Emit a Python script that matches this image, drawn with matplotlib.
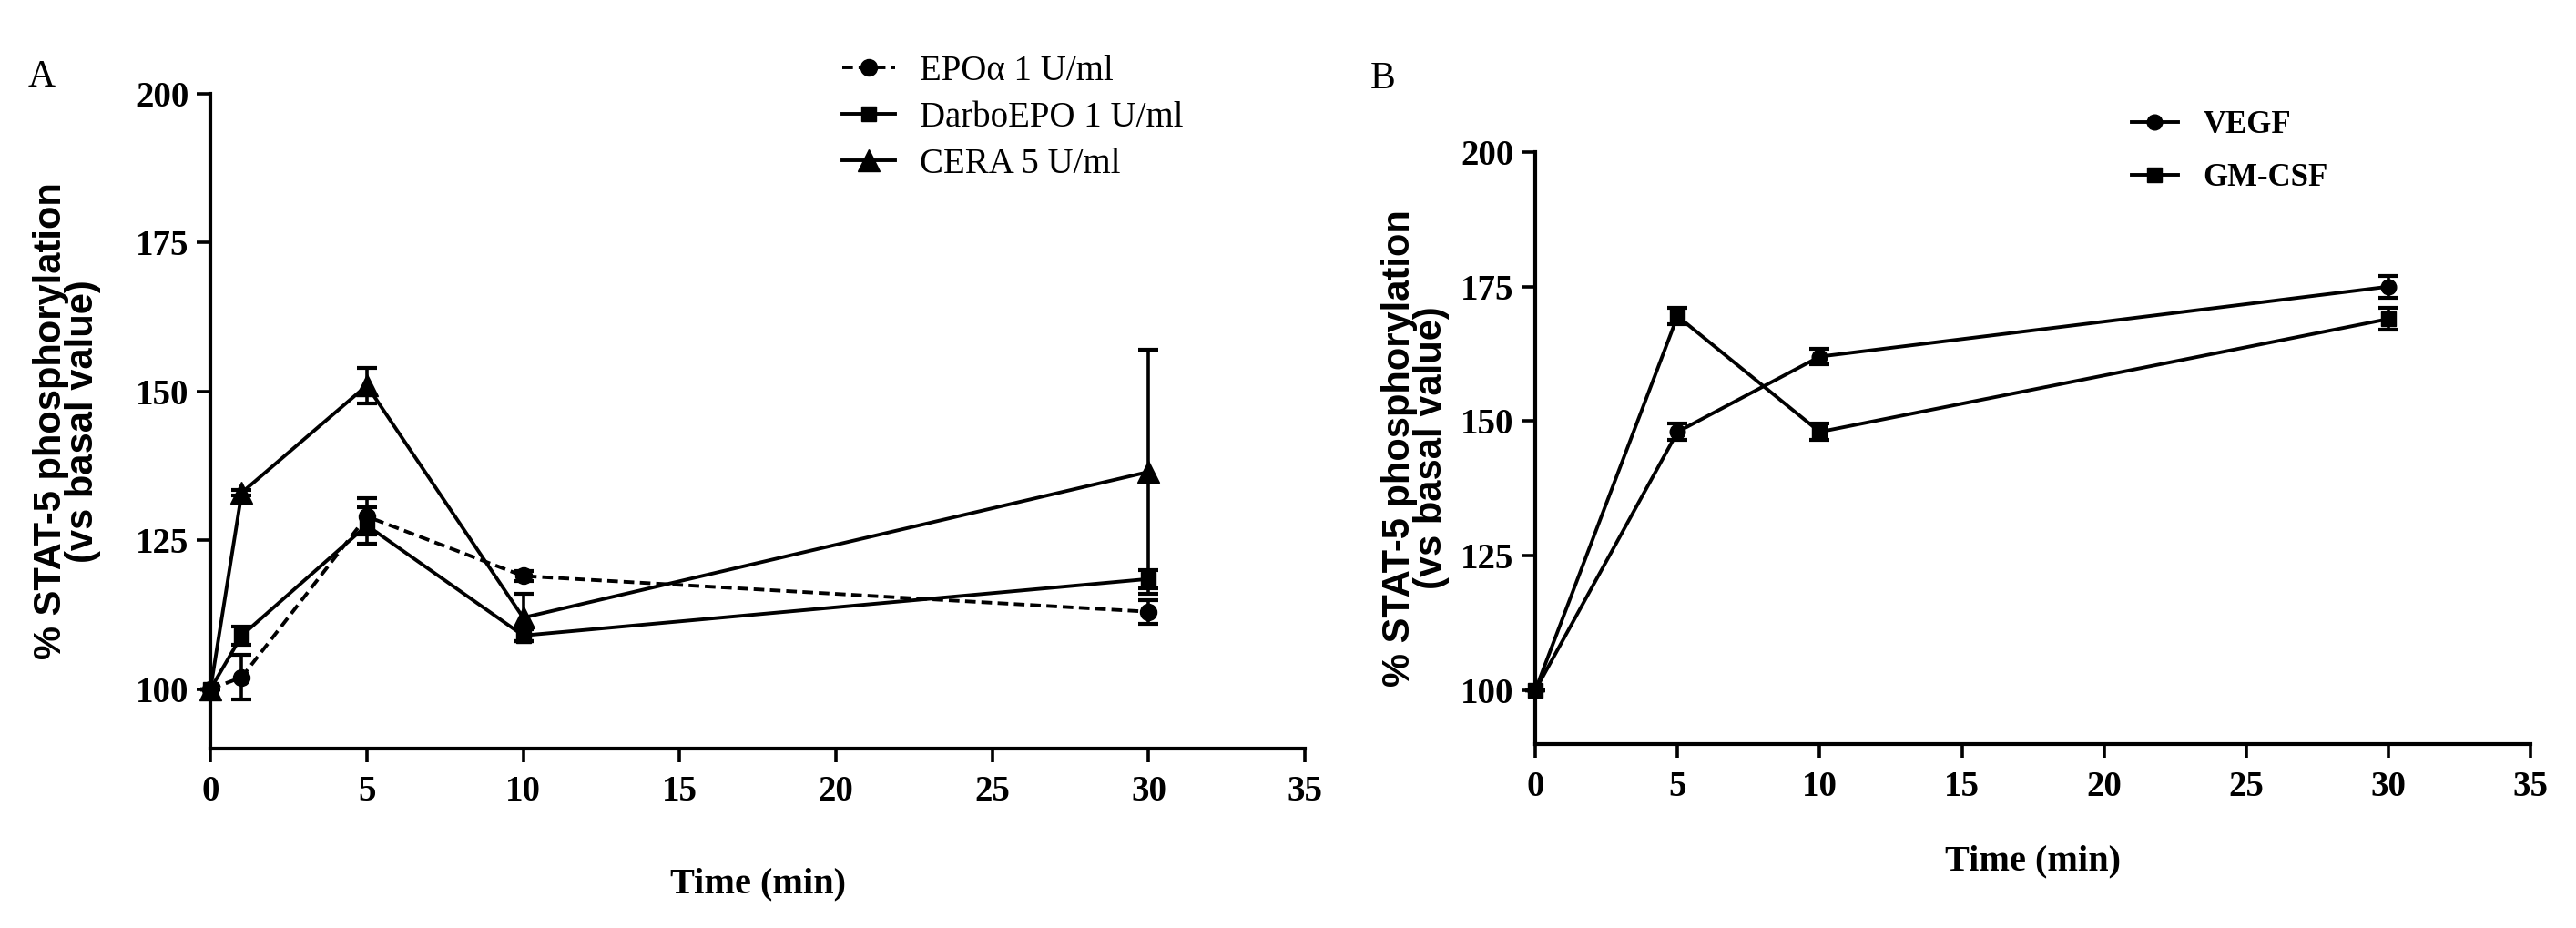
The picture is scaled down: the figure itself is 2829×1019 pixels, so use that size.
"""
STAT-5 phosphorylation time course, panels A and B
"""
import matplotlib
matplotlib.use("Agg")
import matplotlib.pyplot as plt

# Panel A data
TIME_A = [0, 1, 5, 10, 30]
EPO = [100, 102, 129, 119, 113]
EPO_ERR = [0, 3.8, 3, 0.8, 2]
DARBO = [100, 109, 127.5, 109, 118.5]
DARBO_ERR = [0, 1.5, 3, 1, 1.5]
CERA = [100, 133, 151, 112, 136.5]
CERA_ERR = [0, 0.5, 3, 4, 20.5]

# Panel B data
TIME_B = [0, 5, 10, 30]
VEGF = [100, 148, 162, 175]
VEGF_ERR = [0, 1.5, 1.5, 2]
GMCSF = [100, 169.5, 148, 169]
GMCSF_ERR = [0, 1.5, 1.5, 2]

X_TICKS = [0, 5, 10, 15, 20, 25, 30, 35]
Y_TICKS = [100, 125, 150, 175, 200]
YLABEL = "% STAT-5 phosphorylation\n(vs basal value)"

SERIF = "Liberation Serif"
SANS = "Liberation Sans"

fig = plt.figure(figsize=(28.29, 10.19), dpi=100)


def style_axes(ax, xlab_y, ylab_x):
    ax.set_xlim(0, 35)
    ax.set_ylim(90, 200)
    ax.set_xticks(X_TICKS)
    ax.set_yticks(Y_TICKS)
    for side in ["top", "right"]:
        ax.spines[side].set_visible(False)
    for side in ["left", "bottom"]:
        ax.spines[side].set_linewidth(3)
    ax.tick_params(width=2.6, length=11, labelsize=28)
    ax.tick_params(axis="x", pad=10)
    ax.tick_params(axis="y", pad=6)
    for lab in ax.get_xticklabels() + ax.get_yticklabels():
        lab.set_family(SERIF)
        lab.set_fontweight("bold")
    ax.set_xlabel("Time (min)", family=SERIF, fontweight="bold", fontsize=29)
    ax.xaxis.set_label_coords(0.5, xlab_y)
    ax.set_ylabel(YLABEL, family=SANS, fontweight="bold", fontsize=30,
                  linespacing=0.85)
    ax.yaxis.set_label_coords(ylab_x, 0.5)


def draw(ax, x, y, err, marker, ms, ls):
    cont = ax.errorbar(x, y, yerr=err, color="black", marker=marker,
                       markersize=ms, linestyle=ls, linewidth=2.8,
                       elinewidth=2.6, capsize=8, capthick=3,
                       clip_on=False, zorder=3)
    return cont[0]


# Panel A
ax_a = fig.add_axes([0.0817, 0.1933, 0.4249, 0.7056])
h_epo = draw(ax_a, TIME_A, EPO, EPO_ERR, "o", 13, (0, (3, 1.6)))
h_darbo = draw(ax_a, TIME_A, DARBO, DARBO_ERR, "s", 12, "-")
h_cera = draw(ax_a, TIME_A, CERA, CERA_ERR, "^", 17, "-")
style_axes(ax_a, -0.182, -0.1)
ax_a.legend([h_epo, h_darbo, h_cera],
            ["EPOα 1 U/ml", "DarboEPO 1 U/ml", "CERA 5 U/ml"],
            loc="upper left", bbox_to_anchor=(0.577, 1.06),
            borderaxespad=0, borderpad=0, frameon=False,
            prop={"family": SERIF, "size": 28},
            labelspacing=0.36, handlelength=1.5, handletextpad=0.7)
fig.text(0.011, 0.907, "A", family=SERIF, fontsize=30)

# Panel B
ax_b = fig.add_axes([0.596, 0.1982, 0.3864, 0.6379])
h_vegf = draw(ax_b, TIME_B, VEGF, VEGF_ERR, "o", 12, "-")
h_gm = draw(ax_b, TIME_B, GMCSF, GMCSF_ERR, "s", 12, "-")
style_axes(ax_b, -0.17, -0.086)
ax_b.legend([h_vegf, h_gm], ["VEGF", "GM-CSF"],
            loc="upper left", bbox_to_anchor=(0.599, 1.071),
            borderaxespad=0, borderpad=0, frameon=False,
            prop={"family": SERIF, "size": 25, "weight": "bold"},
            labelspacing=0.72, handlelength=1.47, handletextpad=0.8)
fig.text(0.532, 0.905, "B", family=SERIF, fontsize=30)

fig.savefig("out.png", dpi=100)
